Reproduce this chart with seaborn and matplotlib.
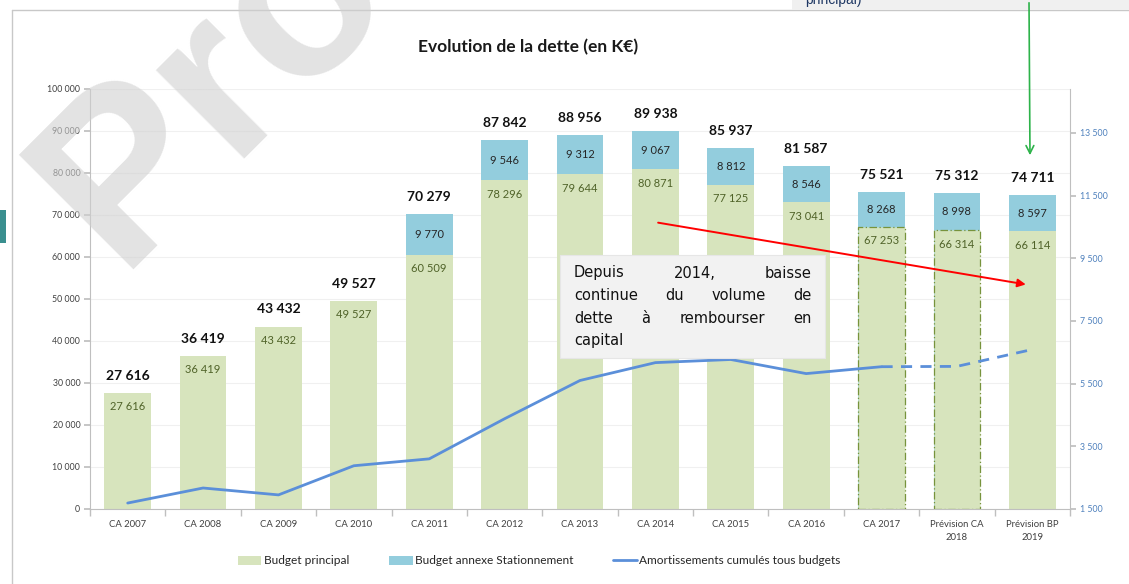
import matplotlib
matplotlib.use("Agg")
import matplotlib.pyplot as plt
import seaborn as sns
import numpy as np
from matplotlib.patches import Patch, Rectangle, FancyArrowPatch
from matplotlib.lines import Line2D

# data
categories = ["CA 2007", "CA 2008", "CA 2009", "CA 2010", "CA 2011", "CA 2012", "CA 2013",
              "CA 2014", "CA 2015", "CA 2016", "CA 2017", "Prévision CA\n2018", "Prévision BP\n2019"]
budget_principal = [27616, 36419, 43432, 49527, 60509, 78296, 79644, 80871, 77125, 73041, 67253, 66314, 66114]
budget_annexe = [0, 0, 0, 0, 9770, 9546, 9312, 9067, 8812, 8546, 8268, 8998, 8597]
amortissements = [1690, 2170, 1950, 2880, 3100, 4380, 5600, 6170, 6270, 5820, 6040, 6050, 6590]
left_ticks = list(range(0, 100001, 10000))
right_ticks = list(range(1500, 13501, 2000))
note_lines = [["Depuis", "2014,", "baisse"],
              ["continue", "du", "volume", "de"],
              ["dette", "à", "rembourser", "en"],
              ["capital"]]

totals = [p + a for p, a in zip(budget_principal, budget_annexe)]
W, H = 1129, 584
GREEN = "#d7e4bd"
BLUE = "#93cddd"
LINE = "#5b8fd9"
GRAY = "#bfbfbf"


def fmt(v):
    return f"{v:,}".replace(",", " ")


sns.set_theme(style="white")
plt.rcParams["font.family"] = ["Lato", "DejaVu Sans"]

fig = plt.figure(figsize=(W / 100, H / 100), dpi=100)
ax = fig.add_axes([90 / W, 1 - 509 / H, 980 / W, 420 / H])

# stacked bars: total (blue) behind, principal (green) in front
sns.barplot(x=categories, y=totals, color=BLUE, saturation=1, width=0.62, ax=ax, edgecolor="none")
sns.barplot(x=categories, y=budget_principal, color=GREEN, saturation=1, width=0.62, ax=ax, edgecolor="none")
green_bars = ax.containers[1]
for i in (10, 11):
    b = green_bars[i]
    b.set_edgecolor("#77933c")
    b.set_linewidth(0.9)
    b.set_linestyle((0, (6, 2, 1, 2)))

ax.set_xlim(-0.5, 12.5)
ax.set_ylim(0, 100000)
ax.set_yticks(left_ticks)
ax.set_yticklabels([fmt(t) for t in left_ticks], fontsize=6.3, color="#404040")
ax.set_xticks(range(len(categories)))
ax.set_xticklabels(categories, fontsize=6.8, color="#404040", linespacing=1.6)
ax.set_xticks(np.arange(-0.5, 13, 1), minor=True)
ax.tick_params(axis="x", which="major", length=0, pad=8)
ax.tick_params(axis="x", which="minor", length=5, color=GRAY, direction="out", bottom=True)
ax.tick_params(axis="y", length=4, color=GRAY, direction="out", left=True, pad=3)
ax.yaxis.grid(True, color="#f0f0f0", lw=0.8)
ax.set_axisbelow(True)
for s in ["top", "right"]:
    ax.spines[s].set_visible(False)
for s in ["left", "bottom"]:
    ax.spines[s].set_color(GRAY)
    ax.spines[s].set_linewidth(0.8)

# labels
for i, (p, a, t) in enumerate(zip(budget_principal, budget_annexe, totals)):
    ax.annotate(fmt(t), (i, t), xytext=(0, 8), textcoords="offset points",
                ha="center", va="bottom", fontsize=10, fontweight="bold", color="#111111")
    if a > 0:
        ax.text(i, p + a / 2, fmt(a), ha="center", va="center", fontsize=8, color="#262626")
    ax.annotate(fmt(p), (i, p), xytext=(0, -10), textcoords="offset points",
                ha="center", va="center", fontsize=8, color="#4f6228")

# amortissements line on the right axis
ax2 = ax.twinx()
idx = np.arange(len(categories))
sns.lineplot(x=idx[:11], y=amortissements[:11], ax=ax2, color=LINE, lw=2)
sns.lineplot(x=idx[10:], y=amortissements[10:], ax=ax2, color=LINE, lw=2, linestyle=(0, (4, 3)))
ax2.set_ylim(1500, 14900)
ax2.set_yticks(right_ticks)
ax2.set_yticklabels([fmt(t) for t in right_ticks], fontsize=6.3, color="#4f81bd")
ax2.tick_params(axis="y", length=4, color=GRAY, direction="out", right=True, pad=3)
ax2.set_ylabel("")
ax.set_xlim(-0.5, 12.5)
for s in ["top", "left", "bottom"]:
    ax2.spines[s].set_visible(False)
ax2.spines["right"].set_color(GRAY)
ax2.spines["right"].set_linewidth(0.8)

# red trend arrow
ax2.annotate("", xy=(11.95, 8650), xytext=(7.0, 10650),
             arrowprops=dict(arrowstyle="-|>", color="red", lw=1.4, mutation_scale=12))

# title
fig.text(528 / W, 1 - 47 / H, "Evolution de la dette (en K€)", ha="center", va="center",
         fontsize=12.5, fontweight="bold", color="#1a1a1a")

# annotation box with justified text
fig.patches.append(Rectangle((560 / W, 1 - 358 / H), 265 / W, 103 / H, transform=fig.transFigure,
                             facecolor="#f2f2f2", edgecolor="#e6e6e6", lw=0.8, zorder=2))
renderer = fig.canvas.get_renderer()
x_left, x_right = 574, 812
for k, words in enumerate(note_lines):
    y = 1 - (273 + k * 22.6) / H
    texts = [fig.text(0, y, w, fontsize=10.5, va="center", ha="left", color="#111111",
                      family=["DejaVu Sans"], zorder=3) for w in words]
    widths = [t.get_window_extent(renderer).width for t in texts]
    if len(words) == 1:
        gap = 0
    else:
        gap = (x_right - x_left - sum(widths)) / (len(words) - 1)
    x = x_left
    for t, w in zip(texts, widths):
        t.set_x(x / W)
        x += w + gap

# legend
handles = [Patch(facecolor=GREEN, edgecolor="none"),
           Patch(facecolor=BLUE, edgecolor="none"),
           Line2D([0], [0], color=LINE, lw=2)]
fig.legend(handles, ["Budget principal", "Budget annexe Stationnement", "Amortissements cumulés tous budgets"],
           loc="center", bbox_to_anchor=(539 / W, 1 - 561 / H), ncol=3, frameon=False,
           fontsize=8.6, handlelength=2.0, handleheight=0.8, handletextpad=0.2, columnspacing=3.3)

# page decorations around the chart
fig.add_artist(Line2D([12 / W, 12 / W], [0, 1 - 10 / H], transform=fig.transFigure, color="#c8c8c8", lw=1))
fig.add_artist(Line2D([12 / W, 1], [1 - 10 / H, 1 - 10 / H], transform=fig.transFigure, color="#c8c8c8", lw=1))
fig.patches.append(Rectangle((792 / W, 1 - 10 / H), (W - 792) / W, 10 / H, transform=fig.transFigure,
                             facecolor="#f0f0f0", edgecolor="none", zorder=2))
fig.text(805 / W, 1 - 4 / H, "principal)", fontsize=10, color="#1f3864", va="baseline",
         family=["Liberation Sans", "DejaVu Sans"])
fig.patches.append(Rectangle((0, 1 - 243 / H), 6 / W, 33 / H, transform=fig.transFigure,
                             facecolor="#3a8f8f", edgecolor="none", zorder=2))
fig.add_artist(FancyArrowPatch(
    (1029 / W, 1.0), (1030 / W, 1 - 158 / H), transform=fig.transFigure,
    arrowstyle="->", mutation_scale=14, color="#2db34a", lw=1.2, zorder=4))

# watermark
fig.text(118 / W, 1 - 270 / H, "Pro", fontsize=170, fontweight="bold", rotation=45, rotation_mode="anchor",
         ha="left", va="baseline", color="#d0d0d0", alpha=0.6, zorder=6,
         family=["Liberation Sans", "DejaVu Sans"])

fig.savefig("out.png", dpi=100)
